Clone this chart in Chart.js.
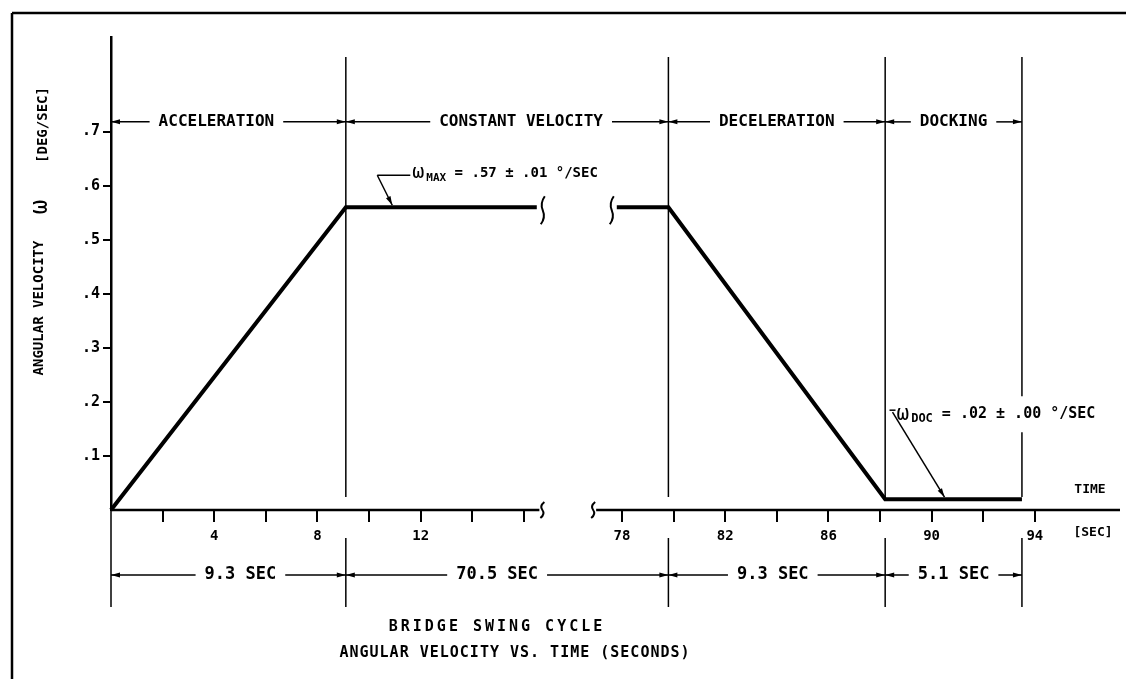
<!DOCTYPE html>
<html lang="en">
<head>
    <meta charset="UTF-8">
    <title>Bridge Swing Cycle</title>
    <script src="https://cdn.jsdelivr.net/npm/chart.js"></script>
    <style>
        body {
            margin: 0;
            background-color: #ffffff;
        }
        canvas {
            display: block;
        }
    </style>
</head>
<body>
    <canvas id="swingChart" width="1126" height="679"></canvas>

    <script>
        // --- data ---
        const accelTime = [0, 9.1, 16.5];
        const accelOmega = [0, 0.56, 0.56];
        const decelTime = [77.8, 79.8, 88.2, 93.5];
        const decelOmega = [0.56, 0.56, 0.02, 0.02];

        const phaseNames = ['ACCELERATION', 'CONSTANT VELOCITY', 'DECELERATION', 'DOCKING'];
        const phaseBounds = [0, 9.1, 79.8, 88.2, 93.5];
        const phaseDurations = ['9.3 SEC', '70.5 SEC', '9.3 SEC', '5.1 SEC'];

        const yTickValues = [0.1, 0.2, 0.3, 0.4, 0.5, 0.6, 0.7];
        const yTickLabels = ['.1', '.2', '.3', '.4', '.5', '.6', '.7'];
        const xTickTimes = [2, 4, 6, 8, 10, 12, 14, 16, 78, 80, 82, 84, 86, 88, 90, 92, 94];
        const xTickLabels = ['', '4', '', '8', '', '12', '', '', '78', '', '82', '', '86', '', '90', '', '94'];

        // axis break: 16.6 s .. 77 s are cut out of the time axis
        const breakStart = 16.6;
        const breakEnd = 77.0;
        const breakShift = 58.2;
        function brk(t) { return t > breakStart ? t - breakShift : t; }

        const FONT = '"DejaVu Sans Mono", monospace';

        function line(ctx, x1, y1, x2, y2, w) {
            ctx.lineWidth = w;
            ctx.beginPath();
            ctx.moveTo(x1, y1);
            ctx.lineTo(x2, y2);
            ctx.stroke();
        }

        // filled arrow head with its tip at (tx,ty), coming from (fx,fy)
        function arrowHead(ctx, tx, ty, fx, fy, len, half) {
            const a = Math.atan2(ty - fy, tx - fx);
            ctx.beginPath();
            ctx.moveTo(tx, ty);
            ctx.lineTo(tx - len * Math.cos(a) + half * Math.sin(a), ty - len * Math.sin(a) - half * Math.cos(a));
            ctx.lineTo(tx - len * Math.cos(a) - half * Math.sin(a), ty - len * Math.sin(a) + half * Math.cos(a));
            ctx.closePath();
            ctx.fill();
        }

        function squiggle(ctx, cx, cy, h) {
            ctx.lineWidth = 2;
            ctx.beginPath();
            ctx.moveTo(cx + 2, cy - h / 2);
            ctx.quadraticCurveTo(cx - 3, cy - h / 4, cx, cy);
            ctx.quadraticCurveTo(cx + 3, cy + h / 4, cx - 2, cy + h / 2);
            ctx.stroke();
        }

        // text with arrows running out to both limits
        function spanLabel(ctx, a, b, y, text, font, shift) {
            ctx.font = font;
            const w = ctx.measureText(text).width;
            const mid = (a + b) / 2 + shift;
            ctx.textAlign = 'center';
            ctx.textBaseline = 'middle';
            ctx.fillText(text, mid, y);
            line(ctx, a, y, mid - w / 2 - 9, y, 1.5);
            line(ctx, mid + w / 2 + 9, y, b, y, 1.5);
            arrowHead(ctx, a, y, a + 10, y, 9, 2.5);
            arrowHead(ctx, b, y, b - 10, y, 9, 2.5);
        }

        // omega with subscript followed by the rest of the text
        function omegaLabel(ctx, x, y, sub, rest, size) {
            ctx.textAlign = 'left';
            ctx.textBaseline = 'middle';
            ctx.font = (size + 6) + 'px ' + FONT;
            ctx.fillText('ω', x, y);
            x += ctx.measureText('ω').width + 2;
            ctx.font = 'bold ' + (size - 3) + 'px ' + FONT;
            ctx.fillText(sub, x, y + 5);
            x += ctx.measureText(sub).width;
            ctx.font = 'bold ' + size + 'px ' + FONT;
            ctx.fillText(rest, x, y);
        }

        const drawingPlugin = {
            id: 'drawing',
            afterDatasetsDraw(chart) {
                const { ctx, chartArea } = chart;
                const xs = chart.scales.x;
                const ys = chart.scales.y;
                const X = t => xs.getPixelForValue(brk(t));
                const Y = w => ys.getPixelForValue(w);
                const y0 = Y(0);

                ctx.save();
                ctx.strokeStyle = '#000';
                ctx.fillStyle = '#000';

                // sheet frame
                line(ctx, 12, 13, 1126, 13, 2.5);
                line(ctx, 12, 13, 12, 679, 2.5);

                // broken time axis
                line(ctx, X(0), y0, X(breakStart), y0, 2.5);
                squiggle(ctx, X(breakStart) + 3, y0, 16);
                squiggle(ctx, X(breakEnd) - 3, y0, 16);
                line(ctx, X(breakEnd), y0, chartArea.right, y0, 2.5);

                // breaks on the curve
                squiggle(ctx, X(accelTime[accelTime.length - 1]) + 6, Y(accelOmega[accelOmega.length - 1]) + 3, 28);
                squiggle(ctx, X(decelTime[0]) - 5, Y(decelOmega[0]) + 3, 28);

                // omega docking call-out position (the last limit line stops around it)
                const dx = X(90.5), dy = Y(0.02);
                const sx = dx - 52, sy = dy - 87;

                // phase limits
                line(ctx, X(0), y0, X(0), y0 + 97, 1.5);
                for (let i = 1; i < phaseBounds.length; i++) {
                    const px = X(phaseBounds[i]);
                    if (i === phaseBounds.length - 1) {
                        line(ctx, px, chartArea.top + 20, px, sy - 16, 1.5);
                        line(ctx, px, sy + 20, px, y0 - 13, 1.5);
                    } else {
                        line(ctx, px, chartArea.top + 20, px, y0 - 13, 1.5);
                    }
                    line(ctx, px, y0 + 28, px, y0 + 97, 1.5);
                }

                // phase names and durations
                const rowTop = Y(0.718);
                const rowBottom = y0 + 65;
                const topShift = [-12, 14, 0, 0];
                const bottomShift = [12, -10, -4, 0];
                for (let i = 0; i < phaseNames.length; i++) {
                    const a = X(phaseBounds[i]);
                    const b = X(phaseBounds[i + 1]);
                    spanLabel(ctx, a, b, rowTop, phaseNames[i], 'bold 16px ' + FONT, topShift[i]);
                    spanLabel(ctx, a, b, rowBottom, phaseDurations[i], 'bold 17px ' + FONT, bottomShift[i]);
                }

                // omega max call-out
                const mx = X(10.9), my = Y(0.56);
                const ex = mx - 15, ey = my - 32;
                line(ctx, ex, ey, ex + 33, ey, 1.5);
                line(ctx, ex, ey, mx, my - 2, 1.5);
                arrowHead(ctx, mx, my - 2, ex, ey, 9, 2.5);
                omegaLabel(ctx, ex + 35, ey - 2, 'MAX', ' = .57 ± .01 °/SEC', 14);

                // omega docking call-out
                line(ctx, sx, sy, dx, dy - 2, 1.5);
                arrowHead(ctx, dx, dy - 2, sx, sy, 9, 2.5);
                line(ctx, sx - 3, sy - 2, sx + 3, sy - 2, 1.5);
                omegaLabel(ctx, sx + 4, sy + 2, 'DOC', ' = .02 ± .00 °/SEC', 15);

                // axis words
                ctx.textAlign = 'center';
                ctx.textBaseline = 'middle';
                ctx.font = 'bold 13px ' + FONT;
                ctx.fillText('TIME', 1090, 490);
                ctx.fillText('[SEC]', 1093, 533);

                // y title, rotated
                ctx.save();
                ctx.translate(39, 308);
                ctx.rotate(-Math.PI / 2);
                ctx.font = 'bold 14px ' + FONT;
                ctx.fillText('ANGULAR VELOCITY', 0, 0);
                ctx.restore();
                ctx.save();
                ctx.translate(41, 207);
                ctx.rotate(-Math.PI / 2);
                ctx.font = '24px ' + FONT;
                ctx.fillText('ω', 0, 0);
                ctx.restore();
                ctx.save();
                ctx.translate(43, 125);
                ctx.rotate(-Math.PI / 2);
                ctx.font = 'bold 14px ' + FONT;
                ctx.fillText('[DEG/SEC]', 0, 0);
                ctx.restore();

                // caption
                ctx.font = 'bold 15px ' + FONT;
                ctx.letterSpacing = '3px';
                ctx.fillText('BRIDGE SWING CYCLE', 497, 627);
                ctx.letterSpacing = '1px';
                ctx.fillText('ANGULAR VELOCITY VS. TIME (SECONDS)', 515, 653);
                ctx.letterSpacing = '0px';

                ctx.restore();
            }
        };

        const ctx = document.getElementById('swingChart').getContext('2d');
        new Chart(ctx, {
            type: 'line',
            data: {
                datasets: [{
                    data: accelTime.map((t, i) => ({ x: brk(t), y: accelOmega[i] })),
                    borderColor: '#000',
                    borderWidth: 4,
                    pointRadius: 0,
                    tension: 0,
                    clip: false
                }, {
                    data: decelTime.map((t, i) => ({ x: brk(t), y: decelOmega[i] })),
                    borderColor: '#000',
                    borderWidth: 4,
                    pointRadius: 0,
                    tension: 0,
                    clip: false
                }]
            },
            options: {
                responsive: false,
                animation: false,
                layout: { padding: { left: 0, right: 6, top: 37, bottom: 0 } },
                plugins: {
                    legend: { display: false },
                    tooltip: { enabled: false }
                },
                scales: {
                    x: {
                        type: 'linear',
                        min: 0,
                        max: 39.1,
                        afterFit: s => { s.height = 169; },
                        afterBuildTicks: s => { s.ticks = xTickTimes.map(t => ({ value: brk(t) })); },
                        ticks: {
                            autoSkip: false,
                            maxRotation: 0,
                            padding: 6,
                            color: '#000',
                            font: { family: FONT, size: 14, weight: 'bold' },
                            callback: (v, i) => xTickLabels[i]
                        },
                        grid: {
                            display: true,
                            drawOnChartArea: false,
                            drawTicks: true,
                            tickLength: 12,
                            color: '#000',
                            lineWidth: 2
                        },
                        border: { display: false }
                    },
                    y: {
                        min: 0,
                        max: 0.875,
                        afterFit: s => { s.width = 111; },
                        afterBuildTicks: s => { s.ticks = yTickValues.map(v => ({ value: v })); },
                        ticks: {
                            padding: 3,
                            color: '#000',
                            font: { family: FONT, size: 15, weight: 'bold' },
                            callback: (v, i) => yTickLabels[i]
                        },
                        grid: {
                            display: true,
                            drawOnChartArea: false,
                            drawTicks: true,
                            tickLength: 8,
                            color: '#000',
                            lineWidth: 2
                        },
                        border: { display: true, color: '#000', width: 2.5 }
                    }
                }
            },
            plugins: [drawingPlugin]
        });
    </script>
</body>
</html>
